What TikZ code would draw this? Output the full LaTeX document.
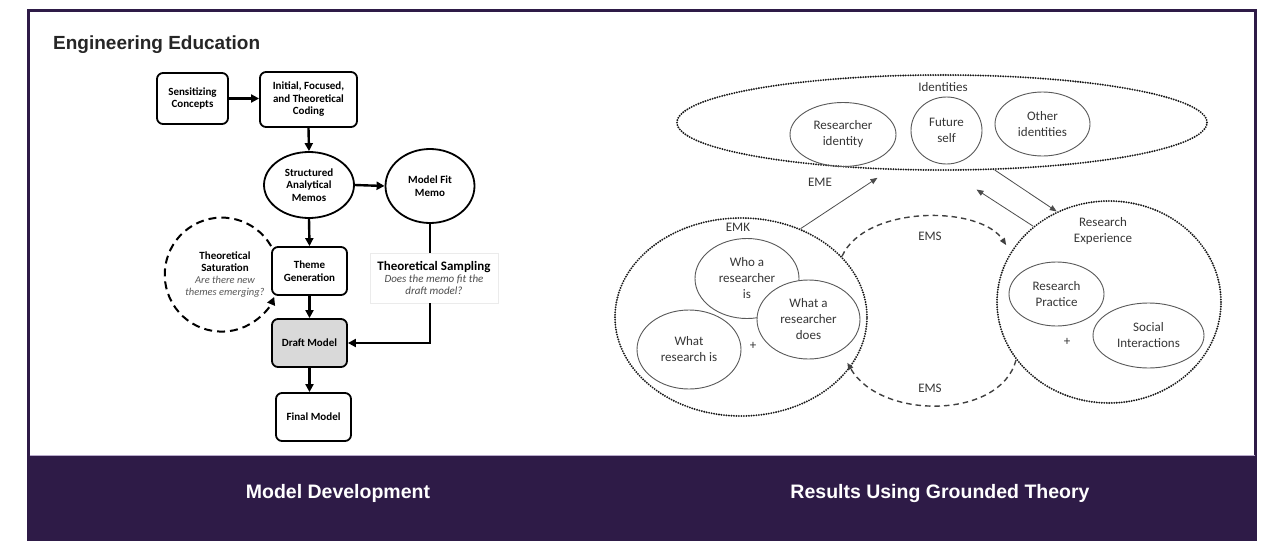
\documentclass[tikz,border=0pt]{standalone}
\usepackage{fontspec}
\setmainfont{Carlito}
\newfontfamily\headfont{Liberation Sans}
\usetikzlibrary{shapes.geometric,arrows.meta}
\definecolor{band}{HTML}{2E1B47}
\definecolor{lav}{HTML}{B8AACB}
\definecolor{txt}{HTML}{363636}
\definecolor{lgray}{HTML}{D9D9D9}
\newcommand\fcfont{\bfseries\fontsize{11}{12.5}\selectfont}
\newcommand\rtfont{\fontsize{13}{16}\selectfont}
\newcommand\tsbold{\bfseries\fontsize{13}{14}\selectfont}
\newcommand\tsital{\mdseries\itshape\fontsize{11}{14}\selectfont\color{black!70}}
\newcommand\satital{\mdseries\itshape\fontsize{10.5}{12.5}\selectfont\color{black!65}}
\newcommand\footfont{\headfont\bfseries\fontsize{19.5}{22}\selectfont}
\begin{document}
\begin{tikzpicture}[x=1pt,y=-1pt,
  fbox/.style={draw, line width=1.8pt, rounded corners=6pt, align=center, font=\fcfont, inner sep=1pt},
  fell/.style={draw, ellipse, line width=1.8pt, align=center, font=\fcfont, inner sep=0pt},
  farr/.style={line width=2.4pt, -{Triangle[length=8pt,width=8pt]}},
  fline/.style={line width=2.4pt},
  satdash/.style={line width=2pt, dash pattern=on 8pt off 5pt, -{Triangle[length=8pt,width=8pt]}},
  bigdot/.style={draw=black!90, ellipse, inner sep=0pt, line width=2.1pt, dash pattern=on 0pt off 2.5pt, line cap=round},
  sel/.style={draw=black!65, ellipse, line width=0.9pt, inner sep=0pt, align=center, font=\rtfont, text=txt},
  rtxt/.style={font=\rtfont, text=txt, align=center, inner sep=0pt},
  tarr/.style={draw=black!70, line width=0.8pt, -{Triangle[length=7pt,width=5.5pt]}},
  emsdash/.style={draw=black!75, line width=1.4pt, dash pattern=on 5.5pt off 4pt, -{Triangle[length=7pt,width=5.5pt]}},
  foot/.style={text=white, font=\footfont, anchor=base, inner sep=0pt}
]
\useasboundingbox (0,0) rectangle (1262,541);
\fill[white] (0,0) rectangle (1262,541);
% frame and band
\fill[band] (27,455) rectangle (1257,541);
\draw[lav, line width=1pt] (29.5,455) -- (1254.5,455);
\draw[band, line width=2.6pt] (28.3,455) -- (28.3,10.3) -- (1255.7,10.3) -- (1255.7,455);
\node[anchor=base west, inner sep=0pt, font=\headfont\bfseries\fontsize{19}{22}\selectfont, text=black!85] (title) at (53,49) {Engineering Education};
\node[foot] (fl) at (338,498) {Model Development};
\node[foot] (fr) at (940,498) {Results Using Grounded Theory};

% ---------- left flowchart ----------
\node[fbox, minimum width=71pt, minimum height=51pt] (sens) at (192.5,98.5) {Sensitizing\\Concepts};
\node[fbox, minimum width=97pt, minimum height=55pt] (init) at (308.5,99.5) {Initial, Focused,\\and Theoretical\\Coding};
\node[fell, minimum width=90pt, minimum height=66pt] (sam) at (309,185) {Structured\\Analytical\\Memos};
\node[fell, minimum width=89pt, minimum height=74pt] (mfm) at (430,186) {Model Fit\\Memo};
\node[fbox, minimum width=75pt, minimum height=48pt] (theme) at (309.5,271) {Theme\\Generation};
\node[fbox, fill=lgray, minimum width=75pt, minimum height=48pt] (draft) at (309.5,343) {Draft Model};
\node[fbox, minimum width=75pt, minimum height=48pt] (final) at (313.5,417) {Final Model};
\node[draw=black!8, minimum width=128pt, minimum height=50pt, align=center, inner sep=0pt] (tsamp) at (434,278)
  {\tsbold Theoretical Sampling\\\tsital Does the memo fit the\\\tsital draft model?};
\node[align=center, inner sep=0pt] (tsat) at (225,275)
  {\fcfont Theoretical\\\fcfont Saturation\\\satital Are there new\\\satital themes emerging?};

\draw[farr] (sens.east) -- (sens.east -| init.west);
\draw[farr] (init.south) -- (sam.north);
\draw[farr] (sam.east) -- (mfm.west);
\draw[farr] (sam.south) -- (theme.north);
\draw[farr] (theme.south) -- (draft.north);
\draw[farr] (draft.south) -- (draft.south |- final.north);
\draw[fline] (mfm.south) -- (mfm.south |- tsamp.north);
\draw[farr] (tsamp.south -| mfm.south) |- (draft.east);
\draw[satdash] (theme.north west) arc[start angle=-30, end angle=-337, radius=57];

% ---------- right diagram ----------
\node[bigdot, minimum width=530pt, minimum height=95pt] (id) at (942,122.5) {};
\node[rtxt] (idlbl) at (943,87) {Identities};
\node[sel, minimum width=106pt, minimum height=64pt] (rid) at (843,134.5) {Researcher\\identity};
\node[sel, minimum width=71pt, minimum height=67pt] (fut) at (946.5,130.5) {Future\\self};
\node[sel, minimum width=95pt, minimum height=64pt] (oth) at (1042.5,124) {Other\\identities};

\node[bigdot, minimum width=252pt, minimum height=198pt] (emk) at (741,317) {};
\node[rtxt] (emklbl) at (738,227) {EMK};
\node[sel, minimum width=104pt, minimum height=80pt] (who) at (747,278.5) {Who a\\researcher\\is};
\node[sel, fill=white, minimum width=103pt, minimum height=79pt] (does) at (808.5,319.5) {What a\\researcher\\does};
\node[sel, minimum width=104pt, minimum height=79pt] (wri) at (689,349.5) {What\\research is};
\node[rtxt] (plus1) at (753,346) {+};

\node[bigdot, minimum width=224pt, minimum height=202pt] (re) at (1109,302) {};
\node[rtxt] (relbl) at (1103,231) {Research\\Experience};
\node[sel, minimum width=95pt, minimum height=64pt] (rp) at (1056.5,294) {Research\\Practice};
\node[sel, minimum width=111pt, minimum height=65pt] (si) at (1148.5,335.5) {Social\\Interactions};
\node[rtxt] (plus2) at (1067,342) {+};

\draw[tarr, shorten >=14pt] (emk.56) -- (id.222.4);
\node[rtxt] (eme) at (820,182) {EME};
\draw[tarr] (id.318) -- (re.120);
\draw[tarr, shorten >=34pt] (re.135.7) -- (id.277);
\draw[emsdash, shorten >=8pt] (emk.31) .. controls (865,205) and (980,205) .. (re.153);
\node[rtxt] (ems1) at (930,236) {EMS};
\draw[emsdash, shorten >=-6pt] (re.212) .. controls (1000,420) and (880,420) .. (emk.-25.8);
\node[rtxt] (ems2) at (930,388) {EMS};
\end{tikzpicture}
\end{document}
